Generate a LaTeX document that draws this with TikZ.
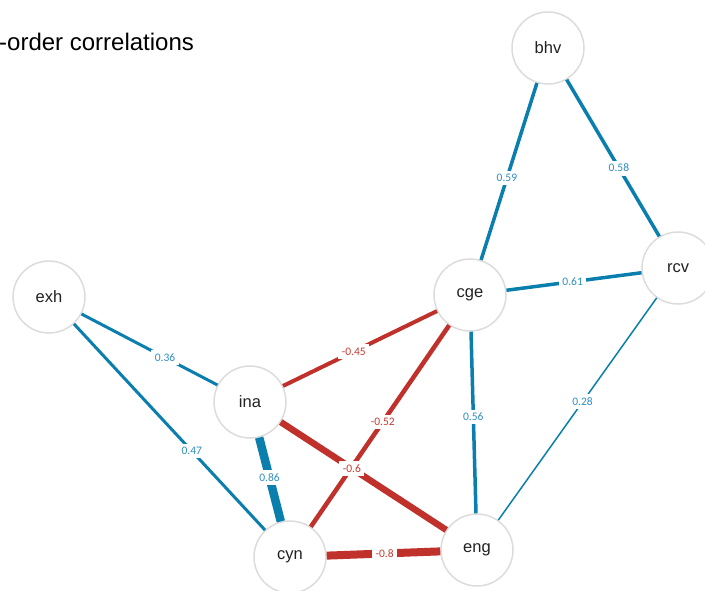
\documentclass[tikz,border=0pt]{standalone}
\usepackage{fontspec}
\setmainfont{Liberation Sans}
\newfontfamily\lblfont{Carlito}
\definecolor{posc}{HTML}{0A7FAE}
\definecolor{posl}{HTML}{2F8FC0}
\definecolor{negc}{HTML}{C0312B}
\definecolor{negl}{HTML}{C83A33}
\definecolor{ringc}{HTML}{DCDCDC}
\definecolor{txtc}{HTML}{222222}
\begin{document}
\begin{tikzpicture}[x=1pt,y=-1pt,
  var/.style={circle,draw=ringc,line width=1.5pt,fill=white,minimum size=72pt,inner sep=0pt,text=txtc,font=\fontsize{16.5}{18}\selectfont},
  posedge/.style={draw=posc,line width=#1},
  negedge/.style={draw=negc,line width=#1},
  plab/.style={draw=none,fill=white,inner sep=3.5pt,text=posl,font=\lblfont\fontsize{11.5}{12}\selectfont},
  nlab/.style={draw=none,fill=white,inner sep=3.5pt,text=negl,font=\lblfont\fontsize{11.5}{12}\selectfont}]
\useasboundingbox (0,0) rectangle (705,590);
\node[anchor=west,text=black,font=\fontsize{24}{27}\selectfont,inner sep=0pt] (title) at (-1,42) {-order correlations};
\node[var] (bhv) at (548,48) {bhv};
\node[var] (rcv) at (678,268) {rcv};
\node[var] (cge) at (470,295) {cge};
\node[var] (exh) at (49,297) {exh};
\node[var] (ina) at (250,402) {ina};
\node[var] (cyn) at (290,557) {cyn};
\node[var] (eng) at (477,550) {eng};
\draw[posedge=3pt] (exh) -- node[plab,pos=0.614]{0.36} (ina);
\draw[posedge=3pt] (exh) -- node[plab,pos=0.617]{0.47} (cyn);
\draw[posedge=3.5pt] (bhv) -- node[plab,pos=0.537]{0.59} (cge);
\draw[posedge=3.5pt] (bhv) -- node[plab,pos=0.564]{0.58} (rcv);
\draw[posedge=3.5pt] (cge) -- node[plab,pos=0.49]{0.61} (rcv);
\draw[posedge=1.5pt] (rcv) -- node[plab,pos=0.468]{0.28} (eng);
\draw[posedge=3.5pt] (cge) -- node[plab,pos=0.47]{0.56} (eng);
\draw[posedge=8.5pt] (ina) -- node[plab,pos=0.48]{0.86} (cyn);
\draw[negedge=4pt] (ina) -- node[nlab,pos=0.46]{-0.45} (cge);
\draw[negedge=4.5pt] (cge) -- node[nlab,pos=0.48]{-0.52} (cyn);
\draw[negedge=6.5pt] (ina) -- node[nlab,pos=0.43]{-0.6} (eng);
\draw[negedge=8pt] (cyn) -- node[nlab,pos=0.51]{-0.8} (eng);
\end{tikzpicture}
\end{document}
